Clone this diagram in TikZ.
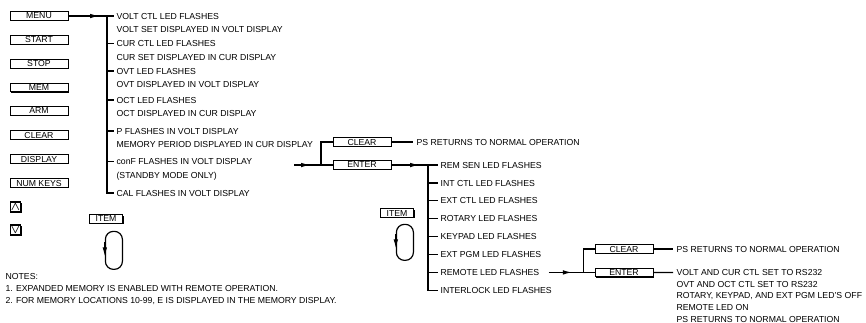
\documentclass[tikz,border=0pt]{standalone}
\usepackage{amsmath}
\usepackage{fontspec}
\setmainfont{Liberation Sans}
\usetikzlibrary{arrows.meta, positioning, calc, shadows}

\begin{document}
\begin{tikzpicture}[
  x=1pt, y=-1pt, >={Latex[length=9pt,width=4.6pt]},
  font=\fontsize{8.7pt}{12.5pt}\selectfont, line width=1.2pt,
  key/.style={draw, fill=white, line width=1pt, minimum width=58pt, minimum height=8.5pt,
              inner sep=0pt, drop shadow={shadow xshift=1pt, shadow yshift=-1pt, opacity=1, fill=black}},
  itemkey/.style={key, minimum width=33pt},
  arrowkey/.style={key, line width=1.4pt, minimum width=10pt, minimum height=10pt, font=\fontsize{13pt}{13pt}\selectfont},
  txt/.style={anchor=west, inner sep=0pt, text height=6.2pt, text depth=0pt},
  itemloop/.style={draw, rounded corners=8pt, minimum width=17pt, minimum height=38pt, inner sep=0pt}]
  \useasboundingbox (0,0) rectangle (866,322);

  % front panel keys
  \node[key] (menu) at (39,16) {MENU};
  \node[key] (start) at (39,40) {START};
  \node[key] (stop) at (39,64) {STOP};
  \node[key] (mem) at (39,87.5) {MEM};
  \node[key] (arm) at (39,111) {ARM};
  \node[key] (clear) at (39,135) {CLEAR};
  \node[key] (display) at (39,159) {DISPLAY};
  \node[key] (numkeys) at (39,183) {NUM KEYS};
  \node[arrowkey] (upkey) at (15.5,207) {$\boldsymbol{\wedge}$};
  \node[arrowkey] (downkey) at (15.5,230) {$\boldsymbol{\vee}$};

  % menu items
  \node[txt] (volt) at (116,16) {VOLT CTL LED FLASHES};
  \node[txt, below=6.3pt of volt.south west, anchor=north west] (voltset) {VOLT SET DISPLAYED IN VOLT DISPLAY};
  \node[txt] (cur) at (116,43.5) {CUR CTL LED FLASHES};
  \node[txt, below=6.3pt of cur.south west, anchor=north west] (curset) {CUR SET DISPLAYED IN CUR DISPLAY};
  \node[txt] (ovt) at (116,71) {OVT LED FLASHES};
  \node[txt, below=6.3pt of ovt.south west, anchor=north west] (ovtset) {OVT DISPLAYED IN VOLT DISPLAY};
  \node[txt] (oct) at (116,100) {OCT LED FLASHES};
  \node[txt, below=6.3pt of oct.south west, anchor=north west] (octset) {OCT DISPLAYED IN CUR DISPLAY};
  \node[txt] (pf) at (116,131) {P FLASHES IN VOLT DISPLAY};
  \node[txt, below=6.3pt of pf.south west, anchor=north west] (period) {MEMORY PERIOD DISPLAYED IN CUR DISPLAY};
  \node[txt] (conf) at (116,161.5) {conF FLASHES IN VOLT DISPLAY};
  \node[txt, below=6.3pt of conf.south west, anchor=north west] (standby) {(STANDBY MODE ONLY)};
  \node[txt] (cal) at (116,193) {CAL FLASHES IN VOLT DISPLAY};

  \coordinate (bus1) at (107,16);
  \draw[->] (menu.east) -- ([xshift=-8pt]bus1);
  \draw (menu.east) -- (bus1) |- ([xshift=-2pt]cal.west);
  \foreach \n in {cur,ovt,oct,pf,conf}
    \draw (bus1 |- \n.west) -- ([xshift=-2pt]\n.west);
  \draw (bus1) -- ([xshift=-2pt]volt.west);

  % conF branch
  \node[key] (clear1) at (362,142) {CLEAR};
  \node[key] (enter1) at (362,165) {ENTER};
  \node[txt] (ps1) at (416,142) {PS RETURNS TO NORMAL OPERATION};
  \coordinate (confout) at (294,165);
  \coordinate (sw1) at (321,165);
  \draw[->] (confout) -- ([xshift=-11pt]sw1);
  \draw (confout) -- (sw1) -- (enter1.west);
  \draw (sw1) |- (clear1.west);
  \draw (clear1.east) -- ([xshift=-3pt]ps1.west);

  % enter list
  \foreach \t [count=\i] in {REM SEN LED FLASHES, INT CTL LED FLASHES, EXT CTL LED FLASHES,
      ROTARY LED FLASHES, KEYPAD LED FLASHES, EXT PGM LED FLASHES, REMOTE LED FLASHES,
      INTERLOCK LED FLASHES}
    \node[txt] (r\i) at (440,165+17.9*\i-17.9) {\t};
  \coordinate (bus2) at (428,165);
  \draw[->] (enter1.east) -- ([xshift=-9pt]bus2);
  \draw (enter1.east) -- (bus2) |- ([xshift=-2pt]r8.west);
  \foreach \i in {2,...,7}
    \draw (bus2 |- r\i.west) -- ([xshift=-2pt]r\i.west);
  \draw (bus2) -- ([xshift=-2pt]r1.west);

  % remote branch
  \coordinate (remout) at ([xshift=9pt]r7.east);
  \coordinate (sw2) at ([xshift=44pt]r7.east);
  \node[key] (clear2) at (624,249) {CLEAR};
  \node[key] (enter2) at (clear2 |- r7.west) {ENTER};
  \node[txt] (ps2) at (676,249) {PS RETURNS TO NORMAL OPERATION};
  \foreach \t [count=\i] in {VOLT AND CUR CTL SET TO RS232, OVT AND OCT CTL SET TO RS232,
      {ROTARY, KEYPAD, AND EXT PGM LED'S OFF}, REMOTE LED ON, PS RETURNS TO NORMAL OPERATION}
    \node[txt] (e\i) at (676,272.4+11.7*\i-11.7) {\t};
  \draw[->] (remout) -- ([xshift=-12pt]sw2);
  \draw (remout) -- (sw2) -- (enter2.west);
  \draw (sw2) |- (clear2.west);
  \draw (clear2.east) -- ([xshift=-3pt]ps2.west);
  \draw (enter2.east) -- ([xshift=-3pt]e1.west);

  % item keys
  \node[itemkey] (item1) at (106,219) {ITEM};
  \node[itemloop, below=7pt of item1.south east, anchor=north east] (loop1) {};
  \draw[->] ([yshift=8pt]loop1.west) -- ([yshift=-6pt]loop1.west);
  \node[itemkey] (item2) at (397,213) {ITEM};
  \node[itemloop, minimum height=36pt, below=6pt of item2.south east, anchor=north east] (loop2) {};
  \draw[->] ([yshift=8pt]loop2.west) -- ([yshift=-6pt]loop2.west);

  % notes
  \node[txt] (notes) at (5,276) {NOTES:};
  \node[txt] (note1) at (5,288) {1. EXPANDED MEMORY IS ENABLED WITH REMOTE OPERATION.};
  \node[txt] (note2) at (5,300) {2. FOR MEMORY LOCATIONS 10-99, E IS DISPLAYED IN THE MEMORY DISPLAY.};
\end{tikzpicture}
\end{document}
